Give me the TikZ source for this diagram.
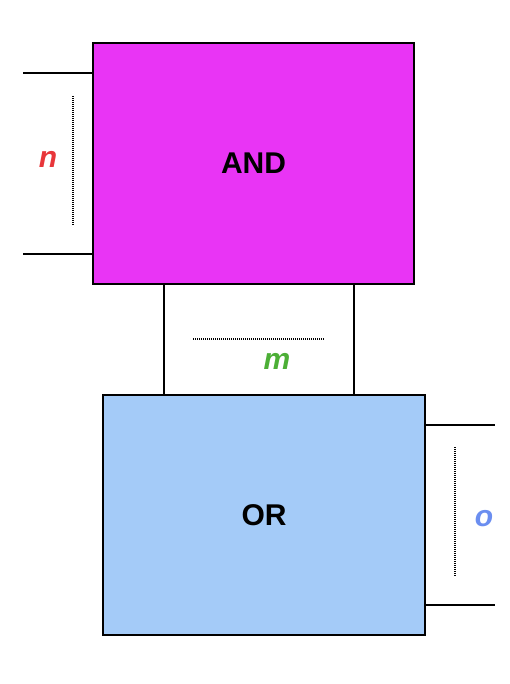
\documentclass[tikz,border=0pt]{standalone}
\usepackage{fontspec}
\setmainfont{Liberation Sans}
\definecolor{andfill}{HTML}{E934F5}
\definecolor{orfill}{HTML}{A4CBF8}
\definecolor{nred}{HTML}{E8363A}
\definecolor{mgreen}{HTML}{4CAF36}
\definecolor{oblue}{HTML}{6B8EF0}
\begin{document}
\begin{tikzpicture}[x=1pt,y=-1pt,
  gate/.style={draw=black,line width=1.3pt,inner sep=0pt,font=\fontsize{30}{34}\selectfont\bfseries},
  wire/.style={black,line width=1.2pt},
  dimline/.style={black,line width=1.4pt,dash pattern=on 1pt off 1pt},
  lbl/.style={font=\fontsize{30}{34}\selectfont\bfseries\itshape}]
\useasboundingbox (0,0) rectangle (510,684);
\node[gate,fill=andfill,minimum width=321pt,minimum height=241pt] (and) at (253.5,163.5) {AND};
\node[gate,fill=orfill,minimum width=322pt,minimum height=240pt] (or) at (264,515) {OR};
% left wires
\coordinate (l1) at (23,73);
\coordinate (l2) at (23,254);
\draw[wire] (l1) -- (l1 -| and.west);
\draw[wire] (l2) -- (l2 -| and.west);
\coordinate (nd1) at (73,96);
\coordinate (nd2) at (73,226);
\draw[dimline] (nd1) -- (nd2);
\node[lbl,text=nred] (n) at (48,159) {n};
% middle wires
\coordinate (m1) at (164,284);
\coordinate (m2) at (354,284);
\draw[wire] (m1) -- (m1 |- or.north);
\draw[wire] (m2) -- (m2 |- or.north);
\coordinate (md1) at (193,339);
\coordinate (md2) at (325,339);
\draw[dimline] (md1) -- (md2);
\node[lbl,text=mgreen] (m) at (277,361) {m};
% right wires
\coordinate (r1) at (495,425);
\coordinate (r2) at (495,605);
\draw[wire] (r1 -| or.east) -- (r1);
\draw[wire] (r2 -| or.east) -- (r2);
\coordinate (od1) at (455,447);
\coordinate (od2) at (455,577);
\draw[dimline] (od1) -- (od2);
\node[lbl,text=oblue] (o) at (484,519) {o};
\end{tikzpicture}
\end{document}
